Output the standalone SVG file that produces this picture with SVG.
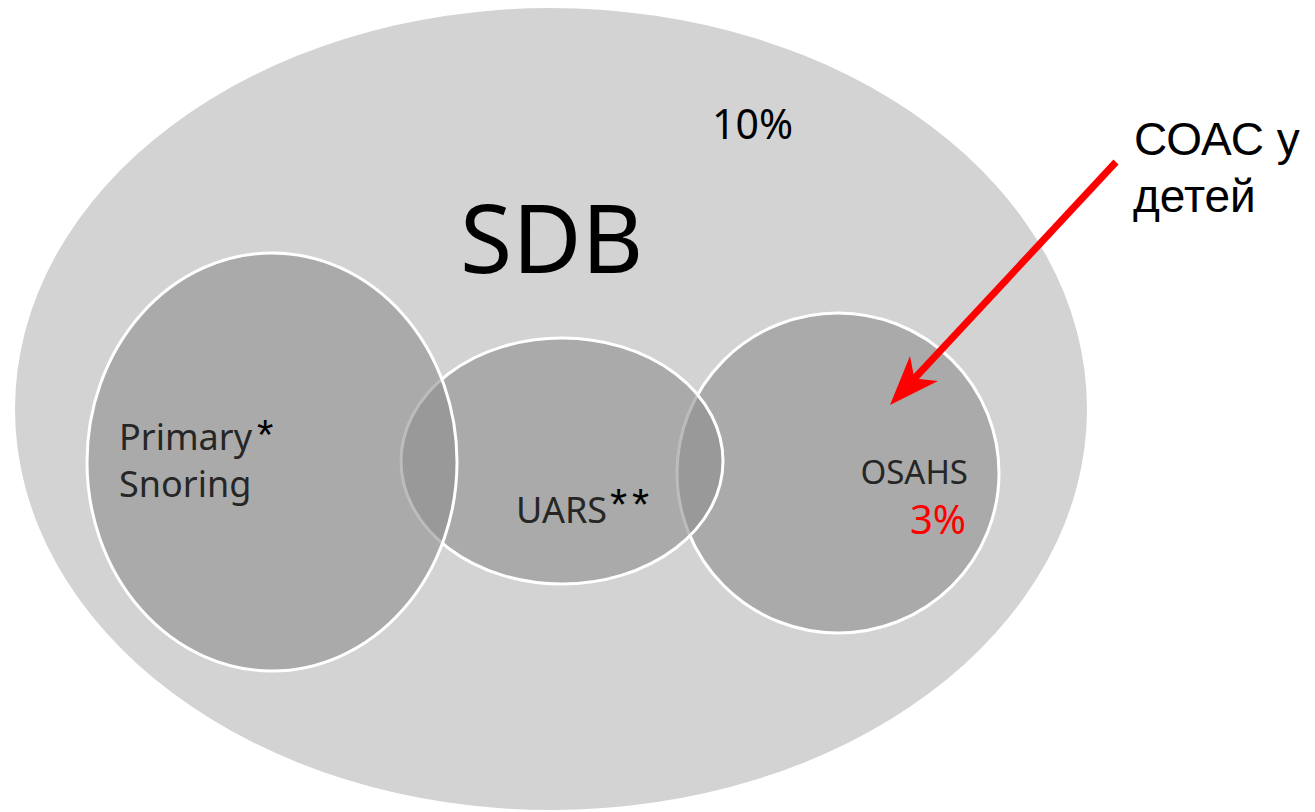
<svg xmlns="http://www.w3.org/2000/svg" width="1315" height="812" viewBox="0 0 1315 812">
<style>
.set{fill:#8d8d8d;fill-opacity:0.586;stroke:#ffffff;stroke-width:3}
.lbl{font-family:"Noto Sans","Open Sans",sans-serif;fill:#262626}
.ast{font-family:"Liberation Sans",Arial,sans-serif;fill:#000}
.ru{font-family:"Liberation Sans",Arial,sans-serif;font-size:46px;fill:#000}
</style>
<rect width="1315" height="812" fill="#ffffff"/>
<g id="sdb">
<ellipse cx="551" cy="409" rx="536" ry="401" fill="#d3d3d3"/>
<text class="lbl" x="460" y="273" font-size="95" style="fill:#000">SDB</text>
<text class="lbl" x="712" y="139" font-size="41" style="fill:#000">10%</text>
</g>
<g id="osahs">
<ellipse class="set" cx="838" cy="473" rx="161" ry="160"/>
</g>
<g id="uars">
<ellipse class="set" cx="562" cy="461" rx="161" ry="123"/>
</g>
<g id="primary-snoring">
<ellipse class="set" cx="272" cy="462" rx="185" ry="209"/>
</g>
<g id="labels">
<text class="lbl" x="119" y="450" font-size="36">Primary</text>
<text class="ast" x="257" y="449" font-size="42">*</text>
<text class="lbl" x="119" y="497" font-size="36">Snoring</text>
<text class="lbl" x="516" y="523" font-size="36">UARS</text>
<text class="ast" x="610" y="520" font-size="44" letter-spacing="5">**</text>
<text class="lbl" x="968" y="484" font-size="33" text-anchor="end">OSAHS</text>
<text class="lbl" x="966" y="534" font-size="40" text-anchor="end" style="fill:#ff0000">3%</text>
</g>
<g id="connectors">
<line x1="1116" y1="162" x2="914" y2="379" stroke="#ff0000" stroke-width="7"/>
<polygon points="890,405 910,356 914.4,378.6 938,381" fill="#ff0000"/>
</g>
<g id="callout">
<text class="ru" x="1134" y="155">СОАС у</text>
<text class="ru" x="1133" y="212">детей</text>
</g>
</svg>
